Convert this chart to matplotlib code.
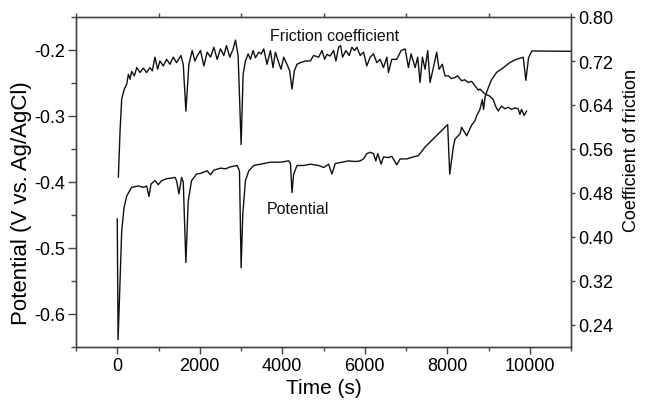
import matplotlib
matplotlib.use("Agg")
import matplotlib.pyplot as plt
from matplotlib.ticker import MultipleLocator, FixedLocator

plt.rcParams['font.family'] = ['Liberation Sans', 'DejaVu Sans']
plt.rcParams['axes.unicode_minus'] = False

# Potential (V vs. Ag/AgCl) vs time (s)
pot_t = [0, 20, 68, 108, 164, 230, 350, 510, 632, 713, 769, 818, 914, 995, 1076, 1197,
         1318, 1398, 1439, 1495, 1560, 1600, 1664, 1720, 1801, 1922, 2019, 2180, 2261,
         2342, 2503, 2624, 2745, 2906, 2963, 3003, 3043, 3108, 3188, 3309, 3471, 3713,
         3955, 4156, 4200, 4236, 4277, 4357, 4519, 4680, 4882, 5003, 5124, 5204, 5285,
         5446, 5607, 5769, 5890, 5970, 6050, 6132, 6212, 6268, 6316, 6398, 6454, 6575,
         6655, 6776, 6857, 7018, 7180, 7300, 7462, 7623, 7784, 7946, 8010, 8060, 8147,
         8188, 8309, 8349, 8470, 8590, 8672, 8711, 8792, 8850, 8880, 8920, 8990, 9074,
         9195, 9357, 9518, 9679, 9841, 9906, 9970, 10050, 11000]
pot_v = [-0.456, -0.639, -0.550, -0.474, -0.439, -0.421, -0.408, -0.406, -0.408, -0.406,
         -0.422, -0.403, -0.398, -0.404, -0.398, -0.395, -0.394, -0.393, -0.398, -0.418,
         -0.393, -0.400, -0.522, -0.429, -0.398, -0.388, -0.387, -0.383, -0.389, -0.382,
         -0.379, -0.380, -0.377, -0.375, -0.383, -0.530, -0.449, -0.398, -0.383, -0.375,
         -0.373, -0.370, -0.370, -0.368, -0.372, -0.416, -0.388, -0.375, -0.375, -0.373,
         -0.375, -0.378, -0.373, -0.388, -0.372, -0.370, -0.368, -0.369, -0.368, -0.365,
         -0.357, -0.355, -0.357, -0.368, -0.357, -0.373, -0.362, -0.363, -0.361, -0.374,
         -0.365, -0.365, -0.362, -0.360, -0.347, -0.337, -0.327, -0.317, -0.313, -0.388,
         -0.347, -0.335, -0.327, -0.317, -0.330, -0.314, -0.307, -0.300, -0.290, -0.275,
         -0.290, -0.270, -0.258, -0.245, -0.234, -0.227, -0.219, -0.214, -0.211, -0.246,
         -0.212, -0.2015, -0.202]

# Coefficient of friction vs time (s)
fric_t = [27, 68, 108, 172, 230, 270, 310, 350, 415, 472, 552, 632, 713, 793, 850, 914,
          979, 1035, 1116, 1197, 1277, 1357, 1439, 1543, 1600, 1664, 1737, 1817, 1882,
          1938, 2019, 2100, 2180, 2261, 2342, 2422, 2503, 2584, 2648, 2729, 2809, 2866,
          2930, 3003, 3051, 3108, 3172, 3229, 3293, 3350, 3430, 3490, 3551, 3631, 3713,
          3776, 3834, 3914, 3970, 4035, 4115, 4180, 4236, 4293, 4357, 4438, 4559, 4680,
          4761, 4882, 4962, 5027, 5083, 5160, 5245, 5301, 5366, 5414, 5462, 5543, 5624,
          5688, 5753, 5809, 5890, 5970, 6050, 6132, 6212, 6293, 6374, 6454, 6535, 6575,
          6655, 6776, 6882, 6979, 7059, 7124, 7221, 7284, 7341, 7398, 7462, 7526, 7583,
          7664, 7744, 7801, 7881, 7946, 8026, 8100, 8188, 8250, 8349, 8420, 8510, 8590,
          8672, 8753, 8792, 8913, 9034, 9115, 9171, 9236, 9316, 9400, 9480, 9560, 9640,
          9720, 9761, 9800, 9865, 9921]
fric_mu = [0.509, 0.593, 0.651, 0.669, 0.678, 0.696, 0.687, 0.701, 0.693, 0.708, 0.699,
           0.707, 0.699, 0.708, 0.702, 0.727, 0.705, 0.720, 0.711, 0.723, 0.714, 0.727,
           0.717, 0.730, 0.714, 0.629, 0.714, 0.739, 0.720, 0.729, 0.739, 0.711, 0.736,
           0.727, 0.745, 0.723, 0.742, 0.730, 0.748, 0.727, 0.742, 0.758, 0.730, 0.568,
           0.696, 0.720, 0.733, 0.723, 0.739, 0.726, 0.736, 0.733, 0.742, 0.714, 0.739,
           0.708, 0.736, 0.717, 0.705, 0.727, 0.714, 0.702, 0.669, 0.702, 0.714, 0.717,
           0.720, 0.720, 0.730, 0.727, 0.739, 0.723, 0.732, 0.729, 0.739, 0.720, 0.745,
           0.748, 0.727, 0.739, 0.730, 0.745, 0.739, 0.745, 0.730, 0.736, 0.711, 0.727,
           0.733, 0.717, 0.723, 0.708, 0.727, 0.699, 0.723, 0.723, 0.739, 0.742, 0.708,
           0.733, 0.708, 0.727, 0.681, 0.727, 0.705, 0.739, 0.681, 0.708, 0.736, 0.705,
           0.714, 0.693, 0.693, 0.688, 0.690, 0.693, 0.684, 0.686, 0.681, 0.683, 0.675,
           0.667, 0.669, 0.660, 0.656, 0.650, 0.638, 0.629, 0.638, 0.633, 0.636, 0.632,
           0.635, 0.633, 0.623, 0.632, 0.621, 0.629]

fig = plt.figure(figsize=(6.46, 4.06), dpi=100)
ax = fig.add_axes([76/646, 58/406, 495/646, 330/406])
ax2 = ax.twinx()

line_kw = dict(color='#111111', lw=1.0)
ax.plot(pot_t, pot_v, **line_kw)
ax2.plot(fric_t, fric_mu, **line_kw)

ax.set_xlim(-1000, 11000)
ax.set_ylim(-0.65, -0.15)
ax2.set_ylim(0.2, 0.8)

spine_c = '#444444'
for a in (ax, ax2):
    for s in a.spines.values():
        s.set_color(spine_c)
        s.set_linewidth(1.0)

ax.xaxis.set_major_locator(FixedLocator([0, 2000, 4000, 6000, 8000, 10000]))
ax.xaxis.set_minor_locator(FixedLocator([-1000, 1000, 3000, 5000, 7000, 9000, 11000]))
ax.yaxis.set_major_locator(FixedLocator([-0.6, -0.5, -0.4, -0.3, -0.2]))
ax.yaxis.set_minor_locator(MultipleLocator(0.05))
ax2.yaxis.set_major_locator(FixedLocator([0.24, 0.32, 0.40, 0.48, 0.56, 0.64, 0.72, 0.80]))
ax2.yaxis.set_minor_locator(FixedLocator([]))

ax.set_yticklabels(['-0.6', '-0.5', '-0.4', '-0.3', '-0.2'])
ax2.set_yticklabels(['0.24', '0.32', '0.40', '0.48', '0.56', '0.64', '0.72', '0.80'])

ax.tick_params(axis='x', which='major', direction='out', length=5, width=1, color=spine_c,
               labelsize=13, pad=2.5, top=False)
ax.tick_params(axis='x', which='minor', direction='out', length=3, width=1, color=spine_c,
               top=True, bottom=True)
ax.tick_params(axis='y', which='major', direction='out', length=6, width=1, color=spine_c,
               labelsize=13, pad=1.5, right=False)
ax.tick_params(axis='y', which='minor', direction='out', length=3.5, width=1, color=spine_c,
               right=False)
ax2.tick_params(axis='y', which='major', direction='out', length=3, width=1, color=spine_c,
                labelsize=13, pad=2)

ax.set_xlabel('Time (s)', fontsize=15)
ax.xaxis.set_label_coords(0.5, -0.094)
ax.set_ylabel('Potential (V vs. Ag/AgCl)', fontsize=16)
ax.yaxis.set_label_coords(-0.088, 0.44)
ax2.set_ylabel('Coefficient of friction', fontsize=13, rotation=90)
ax2.yaxis.set_label_coords(1.106, 0.597)

ax.text(3700, -0.1776, 'Friction coefficient', fontsize=11.5, ha='left', va='center',
        color='#111111')
ax.text(3616, -0.4396, 'Potential', fontsize=11.5, ha='left', va='center', color='#111111')

fig.savefig('out.png', dpi=100)
